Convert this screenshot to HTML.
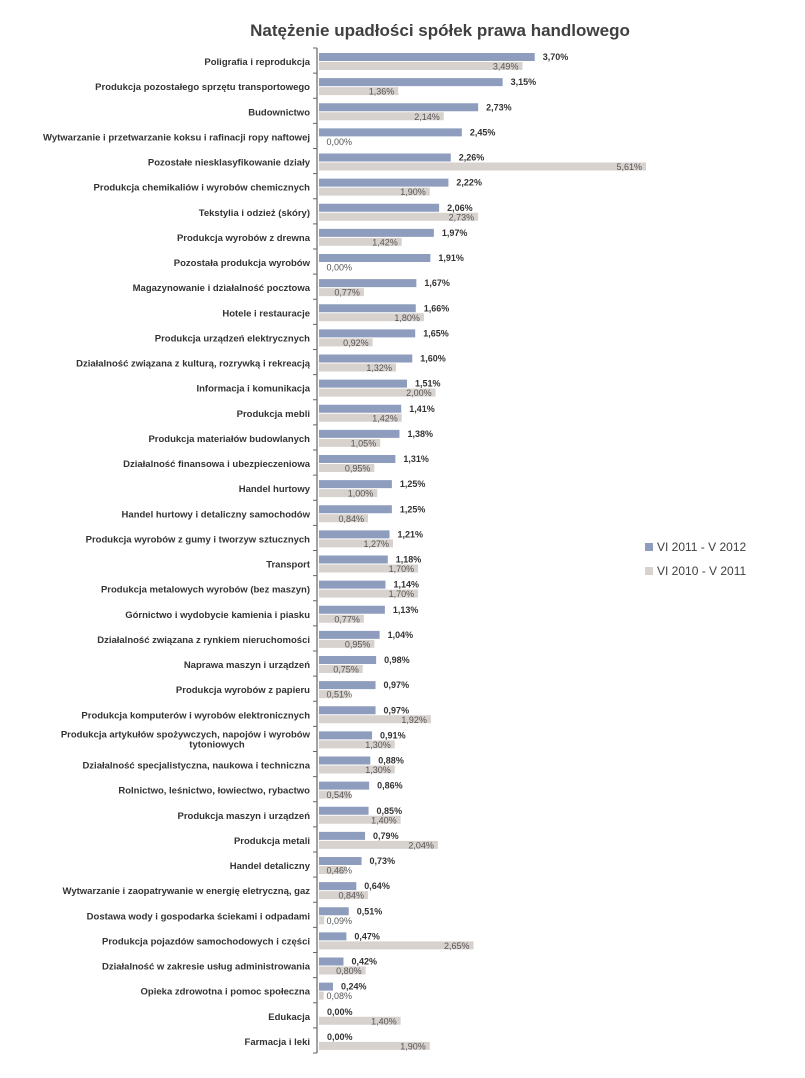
<!DOCTYPE html>
<html><head><meta charset="utf-8"><style>
body{margin:0;background:#fff;width:805px;height:1073px;overflow:hidden}
svg text{font-family:"Liberation Sans",sans-serif}
</style></head><body>
<svg id="c" width="805" height="1073">
<text x="440" y="36" text-anchor="middle" font-size="17" font-weight="bold" fill="#404040">Natężenie upadłości spółek prawa handlowego</text>
<g id="g"></g>
<rect x="645" y="543" width="8" height="8" fill="#8e9dbd"/>
<text x="657" y="551" font-size="12" fill="#404040">VI 2011 - V 2012</text>
<rect x="645" y="567" width="8" height="8" fill="#d8d2cf"/>
<text x="657" y="575" font-size="12" fill="#404040">VI 2010 - V 2011</text>
</svg>
<script>
const categories=["Poligrafia i reprodukcja","Produkcja pozostałego sprzętu transportowego","Budownictwo","Wytwarzanie i przetwarzanie koksu i rafinacji ropy naftowej","Pozostałe niesklasyfikowanie działy","Produkcja chemikaliów i wyrobów chemicznych","Tekstylia i odzież (skóry)","Produkcja wyrobów z drewna","Pozostała produkcja wyrobów","Magazynowanie i działalność pocztowa","Hotele i restauracje","Produkcja urządzeń elektrycznych","Działalność związana z kulturą, rozrywką i rekreacją","Informacja i komunikacja","Produkcja mebli","Produkcja materiałów budowlanych","Działalność finansowa i ubezpieczeniowa","Handel hurtowy","Handel hurtowy i detaliczny samochodów","Produkcja wyrobów z gumy i tworzyw sztucznych","Transport","Produkcja metalowych wyrobów (bez maszyn)","Górnictwo i wydobycie kamienia i piasku","Działalność związana z rynkiem nieruchomości","Naprawa maszyn i  urządzeń","Produkcja wyrobów z papieru","Produkcja komputerów i wyrobów elektronicznych","Produkcja artykułów spożywczych, napojów i wyrobów|tytoniowych","Działalność specjalistyczna, naukowa i techniczna","Rolnictwo, leśnictwo, łowiectwo, rybactwo","Produkcja maszyn i urządzeń","Produkcja metali","Handel detaliczny","Wytwarzanie i zaopatrywanie w energię eletryczną, gaz","Dostawa wody i  gospodarka ściekami i odpadami","Produkcja pojazdów samochodowych i części","Działalność w zakresie usług administrowania","Opieka zdrowotna i pomoc społeczna","Edukacja","Farmacja i leki"];
const series2012=[3.70,3.15,2.73,2.45,2.26,2.22,2.06,1.97,1.91,1.67,1.66,1.65,1.60,1.51,1.41,1.38,1.31,1.25,1.25,1.21,1.18,1.14,1.13,1.04,0.98,0.97,0.97,0.91,0.88,0.86,0.85,0.79,0.73,0.64,0.51,0.47,0.42,0.24,0.00,0.00];
const series2011=[3.49,1.36,2.14,0.00,5.61,1.90,2.73,1.42,0.00,0.77,1.80,0.92,1.32,2.00,1.42,1.05,0.95,1.00,0.84,1.27,1.70,1.70,0.77,0.95,0.75,0.51,1.92,1.30,1.30,0.54,1.40,2.04,0.46,0.84,0.09,2.65,0.80,0.08,1.40,1.90];
const NS="http://www.w3.org/2000/svg",g=document.getElementById('g');
const x0=318,pxPer=58.3,top0=48,band=(1053-48)/categories.length;
const xs=v=>x0+v*pxPer, fmt=v=>v.toFixed(2).replace('.',',')+'%';
function mk(t,a,p){const e=document.createElementNS(NS,t);for(const k in a)e.setAttribute(k,a[k]);(p||g).appendChild(e);return e;}
const ax=mk('line',{x1:317,x2:317,y1:top0,y2:1053,stroke:'#666','stroke-width':1.2});


for(let i=0;i<=categories.length;i++){const y=top0+i*band;const t=mk('line',{x1:313,x2:317,y1:y,y2:y,stroke:'#666'});

}
categories.forEach((c,i)=>{
 const y=top0+i*band;
 const parts=c.split('|');
 const lt=mk('text',{x:310,y:parts.length>1?y+11:y+17,'text-anchor':'end','font-size':9.5,'font-weight':'bold',fill:'#333'});
 
 
 if(parts.length>1){lt.textContent=parts[0];const l2=mk('text',{x:217,y:y+21,'text-anchor':'middle','font-size':9.5,'font-weight':'bold',fill:'#333'});l2.textContent=parts[1];
 
 }
 else lt.textContent=c;
 const v1=series2012[i],v2=series2011[i];
 const b1=mk('rect',{x:x0+1,y:y+5,width:Math.max(0,xs(v1)-x0),height:8,fill:'#8e9dbd'});
 
 
 const t1=mk('text',{x:xs(v1)+9,y:y+12,'font-size':9,'font-weight':'bold',fill:'#333'});t1.textContent=fmt(v1);
 
 
 const b2=mk('rect',{x:x0+1,y:y+14,width:Math.max(0,xs(v2)-x0),height:8,fill:'#d8d2cf'});
 
 
 const tx=Math.max(xs(v2)-3,352);
 const t2=mk('text',{x:tx,y:y+21.5,'text-anchor':'end','font-size':9,fill:'#555'});t2.textContent=fmt(v2);
 
 
});
</script>
</body></html>
